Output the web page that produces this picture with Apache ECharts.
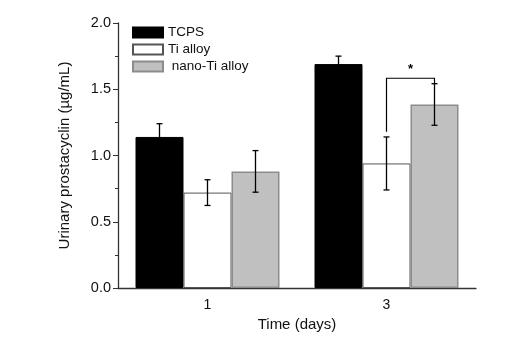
<!DOCTYPE html>
<html>
<head>
<meta charset="utf-8">
<script src="https://cdn.jsdelivr.net/npm/echarts@6/dist/echarts.min.js"></script>
<style>
  html, body { margin: 0; padding: 0; background: #fff; }
  #chart { width: 522px; height: 343px; }
</style>
</head>
<body>
<div id="chart"></div>
<script>
"use strict";

// 数据
var categories = ["1", "3"];
var seriesNames = ["TCPS", "Ti alloy", " nano-Ti alloy"];
var tcps = [1.14, 1.69];
var tiAlloy = [0.72, 0.94];
var nanoTi = [0.88, 1.385];
var tcpsErr = [0.10, 0.06];
var tiAlloyErr = [0.097, 0.20];
var nanoTiErr = [0.157, 0.157];
var yTicks = [0, 0.5, 1.0, 1.5, 2.0];
// 显著性标记: [组, 左柱, 右柱, 顶部, 左端, 右端]
var sigBracket = [[1, 1, 2, 1.583, 1.18, 1.545]];

var BAR_W = 48;
var FONT = "Liberation Sans, Arial, sans-serif";

function errData() {
    var out = [];
    var means = [tcps, tiAlloy, nanoTi];
    var errs = [tcpsErr, tiAlloyErr, nanoTiErr];
    for (var s = 0; s < 3; s++) {
        for (var i = 0; i < categories.length; i++) {
            out.push([i, means[s][i] - errs[s][i], means[s][i] + errs[s][i], s]);
        }
    }
    return out;
}

function renderErr(params, api) {
    var idx = api.value(0);
    var off = (api.value(3) - 1) * BAR_W;
    var lo = api.coord([idx, api.value(1)]);
    var hi = api.coord([idx, api.value(2)]);
    var x = lo[0] + off;
    var cap = 3;
    var st = { stroke: "#000", lineWidth: 1.3 };
    return {
        type: "group",
        children: [
            { type: "line", shape: { x1: x, y1: lo[1], x2: x, y2: hi[1] }, style: st },
            { type: "line", shape: { x1: x - cap, y1: lo[1], x2: x + cap, y2: lo[1] }, style: st },
            { type: "line", shape: { x1: x - cap, y1: hi[1], x2: x + cap, y2: hi[1] }, style: st }
        ]
    };
}

function renderBracket(params, api) {
    var idx = api.value(0);
    var xl = api.coord([idx, 0])[0] + (api.value(1) - 1) * BAR_W;
    var xr = api.coord([idx, 0])[0] + (api.value(2) - 1) * BAR_W;
    var yt = api.coord([idx, api.value(3)])[1];
    var yl = api.coord([idx, api.value(4)])[1];
    var yr = api.coord([idx, api.value(5)])[1];
    var st = { stroke: "#000", lineWidth: 1.2, fill: null };
    return {
        type: "group",
        children: [
            { type: "polyline", shape: { points: [[xl, yl], [xl, yt], [xr, yt], [xr, yr]] }, style: st },
            { type: "text", style: { text: "*", x: (xl + xr) / 2, y: yt - 9, align: "center", verticalAlign: "middle",
                fill: "#000", font: "bold 13px " + FONT } }
        ]
    };
}

var chart = echarts.init(document.getElementById("chart"));
var option = {
    animation: false,
    backgroundColor: "#fff",
    grid: { left: 118, right: 46, top: 23, bottom: 55 },
    legend: {
        orient: "vertical",
        left: 132,
        top: 25,
        padding: 0,
        icon: "rect",
        itemWidth: 30,
        itemHeight: 10,
        itemGap: 2,
        selectedMode: false,
        data: seriesNames,
        textStyle: { fontFamily: FONT, fontSize: 13.5, lineHeight: 15, color: "#111" }
    },
    xAxis: {
        type: "category",
        data: categories,
        name: "Time (days)",
        nameLocation: "middle",
        nameGap: 25,
        nameTextStyle: { fontFamily: FONT, fontSize: 15, color: "#111" },
        axisLine: { lineStyle: { color: "#333", width: 1.3 } },
        axisTick: { alignWithLabel: true, length: 4, lineStyle: { color: "#333" } },
        axisLabel: { fontFamily: FONT, fontSize: 14, color: "#111", margin: 10 }
    },
    yAxis: {
        type: "value",
        min: yTicks[0],
        max: yTicks[yTicks.length - 1],
        interval: 0.5,
        name: "Urinary prostacyclin (\u00b5g/mL)",
        nameLocation: "middle",
        nameGap: 46,
        nameTextStyle: { fontFamily: FONT, fontSize: 15, color: "#111" },
        splitLine: { show: false },
        axisLine: { show: true, lineStyle: { color: "#333", width: 1.3 } },
        axisTick: { show: true, length: 5, lineStyle: { color: "#333" } },
        minorTick: { show: true, splitNumber: 2, length: 3, lineStyle: { color: "#333" } },
        axisLabel: {
            fontFamily: FONT, fontSize: 14.5, color: "#111", margin: 7,
            formatter: function (v) { return v.toFixed(1); }
        }
    },
    series: [
        {
            name: seriesNames[0], type: "bar", data: tcps, barWidth: BAR_W, barGap: "0%",
            itemStyle: { color: "#000", borderColor: "#000", borderWidth: 1 }
        },
        {
            name: seriesNames[1], type: "bar", data: tiAlloy, barWidth: BAR_W, barGap: "0%",
            itemStyle: { color: "#fff", borderColor: "#555", borderWidth: 1 }
        },
        {
            name: seriesNames[2], type: "bar", data: nanoTi, barWidth: BAR_W, barGap: "0%",
            itemStyle: { color: "#c0c0c0", borderColor: "#8c8c8c", borderWidth: 1.5 }
        },
        {
            type: "custom", renderItem: renderErr, data: errData(), z: 10,
            encode: { x: 0, y: [1, 2] }, silent: true
        },
        {
            type: "custom", renderItem: renderBracket, data: sigBracket, z: 10,
            encode: { x: 0, y: [3, 4, 5] }, silent: true
        }
    ]
};
chart.setOption(option);
</script>
</body>
</html>
